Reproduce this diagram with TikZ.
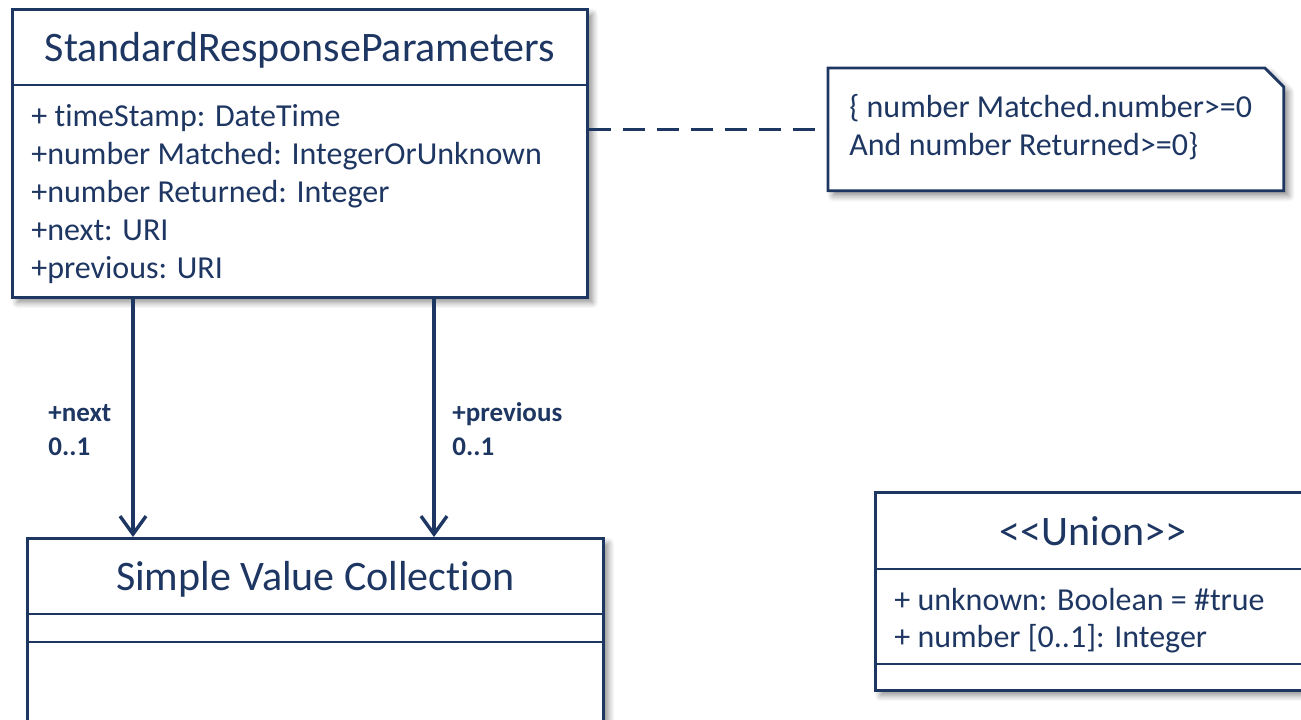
\documentclass[tikz,border=0pt]{standalone}
\usepackage{fontspec}
\setmainfont{Carlito}[Ligatures=NoCommon]
\usetikzlibrary{arrows.meta,shadows.blur}
\definecolor{umlnavy}{RGB}{30,54,98}
\begin{document}
\begin{tikzpicture}[x=1pt,y=-1pt,color=umlnavy,line width=2.8pt,
  softshadow/.style={blur shadow={shadow xshift=5pt,shadow yshift=-5pt,
      shadow blur radius=6pt,shadow blur steps=8,shadow opacity=45}},
  classbox/.style={draw,fill=white,inner sep=0pt,anchor=north west,softshadow},
  titletext/.style={font=\fontsize{42}{50}\selectfont,anchor=base,inner sep=0pt},
  attrtext/.style={font=\fontsize{32}{38}\selectfont,anchor=base west,inner sep=0pt},
  roletext/.style={font=\fontsize{27}{33}\selectfont\bfseries,anchor=base west,inner sep=0pt},
  assoc/.style={line width=3.6pt,-{Straight Barb[length=18pt,width=26pt,line width=3.4pt]}},
  constraint/.style={dash pattern=on 22pt off 12pt}
]
\path[use as bounding box] (0,0) rectangle (1301,720);
\clip (0,0) rectangle (1301,720);

% class StandardResponseParameters
\node[classbox,minimum width=575pt,minimum height=288pt] (srp) at (11,8) {};
\draw ([yshift=-77pt]srp.north west) -- ([yshift=-77pt]srp.north east);
\node[titletext] (srptitle) at ([yshift=-53pt]srp.north) {StandardResponseParameters};
\node[attrtext] (srpa1) at (30,126) {+ timeStamp: DateTime};
\node[attrtext] (srpa2) at (30,164) {+number Matched: IntegerOrUnknown};
\node[attrtext] (srpa3) at (30,202) {+number Returned: Integer};
\node[attrtext] (srpa4) at (30,240) {+next: URI};
\node[attrtext] (srpa5) at (30,278) {+previous: URI};

% constraint note with folded corner
\node[inner sep=0pt,minimum width=453pt,minimum height=120pt,anchor=north west] (note) at (828,68) {};
\draw[fill=white,softshadow] (note.north west) -- ([xshift=-19pt]note.north east)
  -- ([yshift=-19pt]note.north east) -- (note.south east) -- (note.south west) -- cycle;
\node[attrtext] (notel1) at (848,117) {\{ number Matched.number>=0};
\node[attrtext] (notel2) at (848,155) {And number Returned>=0\}};
\draw[constraint] (note.west -| srp.east) -- (note.west);

% class Simple Value Collection
\node[classbox,minimum width=576pt,minimum height=230pt] (svc) at (26,537) {};
\draw ([yshift=-77pt]svc.north west) -- ([yshift=-77pt]svc.north east);
\draw ([yshift=-105pt]svc.north west) -- ([yshift=-105pt]svc.north east);
\node[titletext] (svctitle) at ([yshift=-53pt]svc.north) {Simple Value Collection};

% class <<Union>>
\node[classbox,minimum width=470pt,minimum height=198pt] (union) at (874,491) {};
\draw ([yshift=-78pt]union.north west) -- ([yshift=-78pt]union.north east);
\draw ([yshift=-173pt]union.north west) -- ([yshift=-173pt]union.north east);
\node[titletext] (uniontitle) at (1093,545) {<{}<Union>{}>};
\node[attrtext] (uniona1) at (893,610) {+ unknown: Boolean = \#true};
\node[attrtext] (uniona2) at (893,647) {+ number [0..1]: Integer};

% associations
\draw[assoc] ([xshift=122pt]srp.south west) -- ([xshift=107pt]svc.north west);
\draw[assoc] ([xshift=423pt]srp.south west) -- ([xshift=408pt]svc.north west);
\node[roletext] (nextrole) at (47,421) {+next};
\node[roletext] (nextmult) at (47,455) {0..1};
\node[roletext] (prevrole) at (451,421) {+previous};
\node[roletext] (prevmult) at (451,455) {0..1};
\end{tikzpicture}
\end{document}
